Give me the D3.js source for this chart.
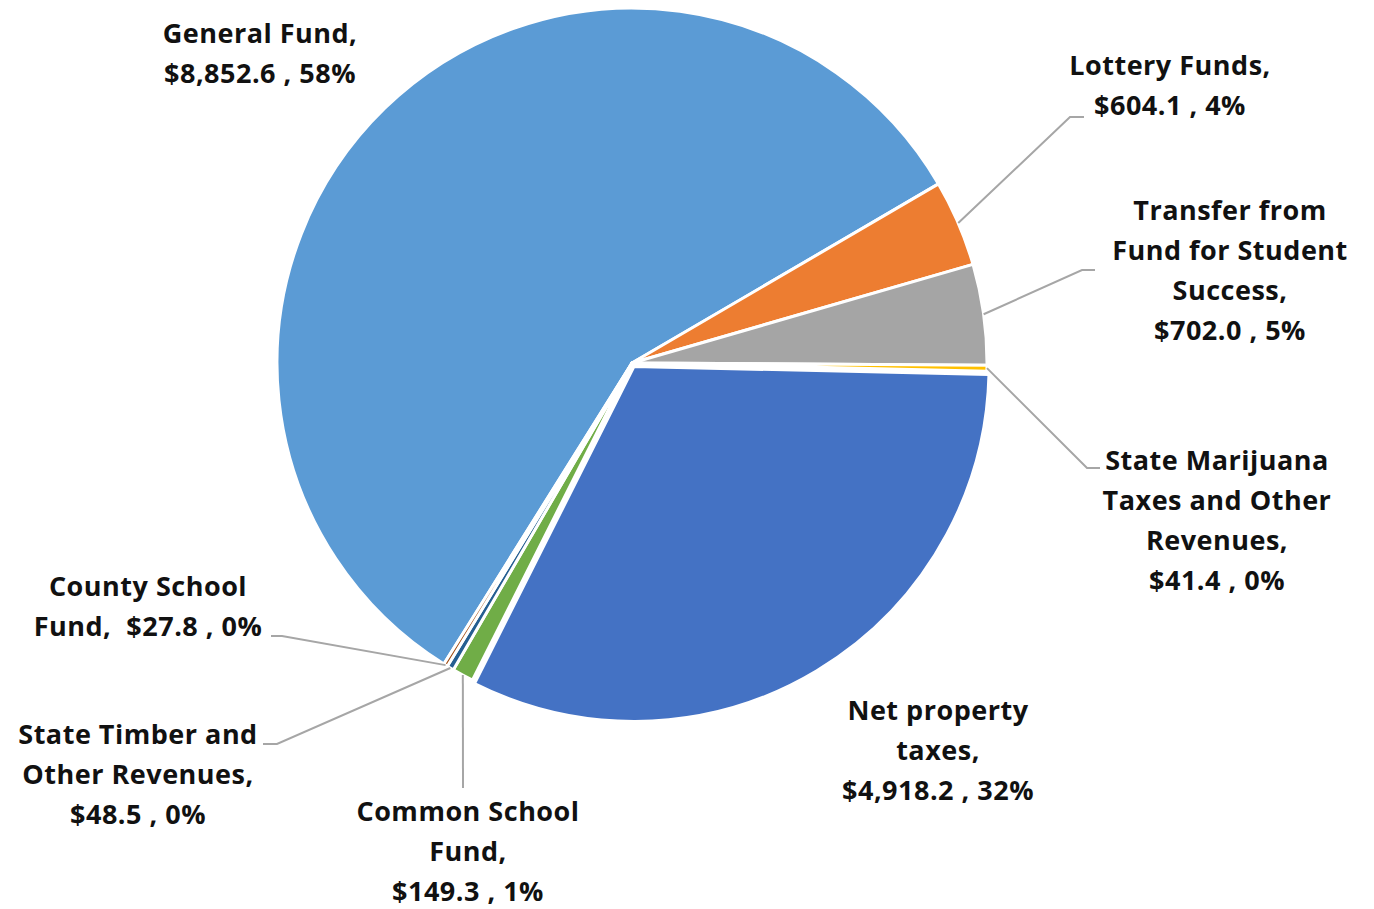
<!DOCTYPE html>
<html>
<head>
<meta charset="utf-8">
<script src="https://cdn.jsdelivr.net/npm/d3@7"></script>
<style>
  body { margin: 0; background: #fff; }
  .lbl { font-family: "Open Sans", Lato, sans-serif; font-weight: bold; font-size: 27px; letter-spacing: 0.5px; fill: #111; white-space: pre; }
</style>
</head>
<body>
<div id="chart"></div>
<script>
const categories = ["General Fund", "Lottery Funds", "Transfer from Fund for Student Success",
    "State Marijuana Taxes and Other Revenues", "Net property taxes", "Common School Fund",
    "State Timber and Other Revenues", "County School Fund"];
const values = [8852.6, 604.1, 702.0, 41.4, 4918.2, 149.3, 48.5, 27.8];
const colors = ["#5B9BD5", "#ED7D31", "#A5A5A5", "#FFC000", "#4472C4", "#70AD47", "#255E91", "#9E480E"];

// label text, %v is replaced by "value , pct"
const labelLines = [
    ["General Fund,", "%v"],
    ["Lottery Funds,", "%v"],
    ["Transfer from", "Fund for Student", "Success,", "%v"],
    ["State Marijuana", "Taxes and Other", "Revenues,", "%v"],
    ["Net property", "taxes,", "%v"],
    ["Common School", "Fund,", "%v"],
    ["State Timber and", "Other Revenues,", "%v"],
    ["County School", "Fund,  %v"]
];

// layout: label centre x, first line y, and leader (null = none)
const labelPos = [
    { x: 260, y: 33, leader: null },
    { x: 1170, y: 65, leader: { ex: 1070, ey: 117, tx: 1084 } },
    { x: 1230, y: 210, leader: { ex: 1082, ey: 270, tx: 1095 } },
    { x: 1217, y: 460, leader: { ex: 1087, ey: 468, tx: 1100 } },
    { x: 938, y: 710, leader: null },
    { x: 468, y: 811, leader: { ex: 463, ey: 788, tx: 463 } },
    { x: 138, y: 734, leader: { ex: 277, ey: 744, tx: 263 } },
    { x: 148, y: 586, leader: { ex: 282, ey: 636, tx: 271 } }
];

const width = 1374, height = 909;
const cx = 632, cy = 363, radius = 355;
const lineH = 40;
const explodeIdx = 4, explodeBy = 4;

const svg = d3.select("#chart").append("svg")
    .attr("width", width)
    .attr("height", height);

const total = d3.sum(values);
const fmtVal = d3.format("$,.1f");
const fmtPct = d3.format(".0%");

const start = -148 * Math.PI / 180;
const pie = d3.pie()
    .sort(null)
    .value(function(d) { return d; })
    .startAngle(start)
    .endAngle(start + 2 * Math.PI);

const arcs = pie(values);

const arc = d3.arc()
    .innerRadius(0)
    .outerRadius(radius);

const g = svg.append("g")
    .attr("transform", "translate(" + cx + "," + cy + ")");

g.selectAll("path.slice")
    .data(arcs)
    .enter().append("path")
    .attr("class", "slice")
    .attr("d", arc)
    .attr("fill", function(d, i) { return colors[i]; })
    .attr("stroke", "#fff")
    .attr("stroke-width", 3)
    .attr("stroke-linejoin", "round")
    .attr("transform", function(d, i) {
        if (i !== explodeIdx) return null;
        const a = (d.startAngle + d.endAngle) / 2;
        return "translate(" + (Math.sin(a) * explodeBy) + "," + (-Math.cos(a) * explodeBy) + ")";
    });

//leader lines from slice edge to label
arcs.forEach(function(d, i) {
    const p = labelPos[i];
    if (!p.leader) return;
    const a = (d.startAngle + d.endAngle) / 2;
    const sx = cx + Math.sin(a) * radius;
    const sy = cy - Math.cos(a) * radius;
    const pts = [[sx, sy], [p.leader.ex, p.leader.ey], [p.leader.tx, p.leader.ey]];
    svg.append("path")
        .attr("d", d3.line()(pts))
        .attr("fill", "none")
        .attr("stroke", "#A6A6A6")
        .attr("stroke-width", 2);
});

//labels
labelLines.forEach(function(lines, i) {
    const p = labelPos[i];
    const v = fmtVal(values[i]) + " , " + fmtPct(values[i] / total);
    const t = svg.append("text")
        .attr("class", "lbl")
        .attr("text-anchor", "middle");
    lines.forEach(function(s, j) {
        t.append("tspan")
            .attr("x", p.x)
            .attr("y", p.y + j * lineH)
            .attr("dy", "0.36em")
            .text(s.replace("%v", v));
    });
});
</script>
</body>
</html>
